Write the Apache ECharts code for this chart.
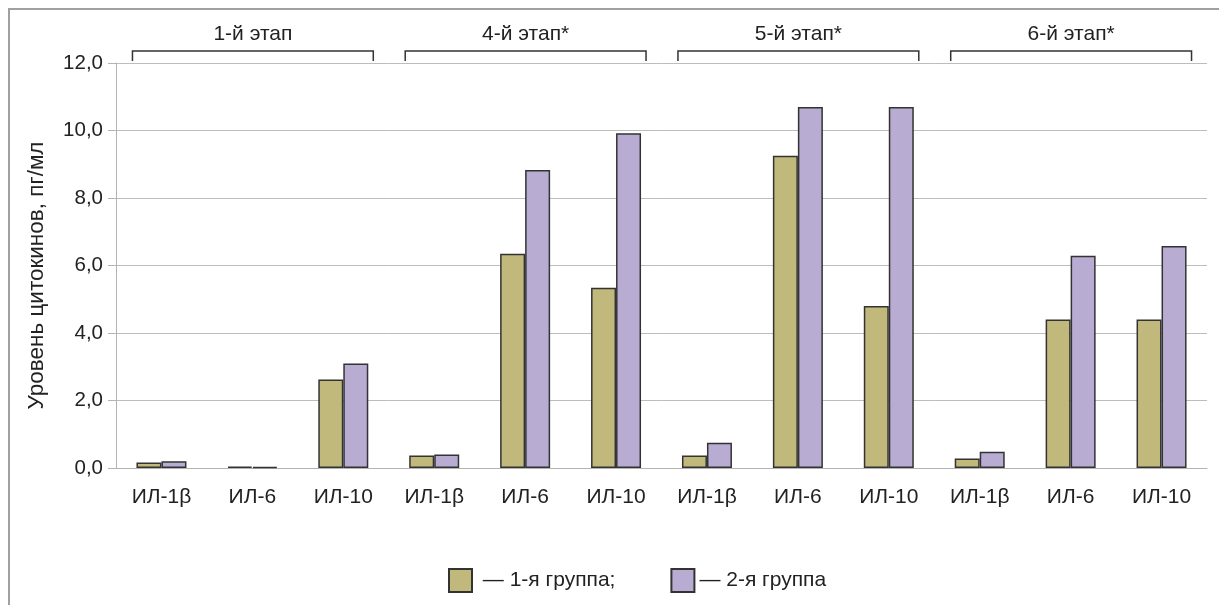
<!DOCTYPE html>
<html>
<head>
<meta charset="utf-8">
<script src="https://cdn.jsdelivr.net/npm/echarts@6/dist/echarts.min.js"></script>
<style>
html,body{margin:0;padding:0;background:#fff;}
#c{width:1219px;height:605px;}
</style>
</head>
<body>
<div id="c"></div>
<script>
const categories = ['ИЛ-1β','ИЛ-6','ИЛ-10','ИЛ-1β','ИЛ-6','ИЛ-10','ИЛ-1β','ИЛ-6','ИЛ-10','ИЛ-1β','ИЛ-6','ИЛ-10'];
const group1 = [0.16, 0.04, 2.62, 0.37, 6.35, 5.34, 0.37, 9.25, 4.8, 0.28, 4.4, 4.4];
const group2 = [0.2, 0.03, 3.1, 0.4, 8.83, 9.92, 0.75, 10.7, 10.7, 0.48, 6.29, 6.58];
const stages = ['1-й этап','4-й этап*','5-й этап*','6-й этап*'];
const stageStart = [0, 3, 6, 9];
const stageEnd = [2, 5, 8, 11];
const seriesNames = ['1-я группа','2-я группа'];

const FONT = 'Liberation Sans, Arial, sans-serif';
const chart = echarts.init(document.getElementById('c'));
const BAR_W = 25;

const option = {
  animation: false,
  backgroundColor: '#fff',
  grid: {left: 116, right: 12, top: 63, bottom: 137, containLabel: false},
  xAxis: {
    type: 'category',
    data: categories,
    axisLine: {show: true, lineStyle: {color: '#b3b3b3', width: 1}},
    axisTick: {show: false},
    axisLabel: {color: '#222', fontSize: 21, fontFamily: FONT, margin: 19}
  },
  yAxis: {
    type: 'value',
    min: 0, max: 12, interval: 2,
    name: 'Уровень цитокинов, пг/мл',
    nameLocation: 'middle',
    nameGap: 68,
    nameTextStyle: {color: '#222', fontSize: 22.5, fontFamily: FONT, padding: [0, 20, 0, 0]},
    axisLine: {show: true, lineStyle: {color: '#b3b3b3', width: 1}},
    axisTick: {show: true, inside: false, length: 8, lineStyle: {color: '#b3b3b3'}},
    splitLine: {show: true, lineStyle: {color: '#bdbdbd', width: 1}},
    axisLabel: {
      color: '#222', fontSize: 20.5, fontFamily: FONT, margin: 13,
      formatter: v => v.toFixed(1).replace('.', ',')
    }
  },
  legend: {
    top: 563,
    left: 443,
    itemWidth: 23,
    itemHeight: 23,
    itemGap: 55,
    textStyle: {color: '#222', fontSize: 21, fontFamily: FONT},
    formatter: name => name === seriesNames[0] ? ' — ' + name + ';' : '— ' + name,
    data: seriesNames.map(n => ({name: n, icon: 'rect'}))
  },
  series: [
    {
      name: seriesNames[0], type: 'bar', data: group1, barWidth: BAR_W, barGap: '0%',
      itemStyle: {color: '#c1b87c', borderColor: '#333', borderWidth: 1.5}
    },
    {
      name: seriesNames[1], type: 'bar', data: group2, barWidth: BAR_W, barGap: '0%',
      itemStyle: {color: '#b9acd3', borderColor: '#333', borderWidth: 1.5}
    }
  ]
};
chart.setOption(option);

// Brackets and stage labels positioned from the category axis scale
const g = [];
const bracketTop = 51, bracketBottom = 61;
stages.forEach((s, i) => {
  const x0 = chart.convertToPixel({xAxisIndex: 0}, stageStart[i]) - BAR_W - 4;
  const x1 = chart.convertToPixel({xAxisIndex: 0}, stageEnd[i]) + BAR_W + 5;
  g.push({
    type: 'polyline',
    shape: {points: [[x0, bracketBottom], [x0, bracketTop], [x1, bracketTop], [x1, bracketBottom]]},
    style: {stroke: '#333', lineWidth: 1.5, fill: null}
  });
  g.push({
    type: 'text',
    x: (x0 + x1) / 2, y: 34,
    style: {text: s, fill: '#222', fontSize: 21, fontFamily: FONT, align: 'center', verticalAlign: 'middle'}
  });
});
// outer frame
g.push({type: 'polyline', shape: {points: [[9, 605], [9, 9], [1219, 9]]}, style: {stroke: '#a0a0a0', lineWidth: 2, fill: null}});
chart.setOption({graphic: g});
</script>
</body>
</html>
